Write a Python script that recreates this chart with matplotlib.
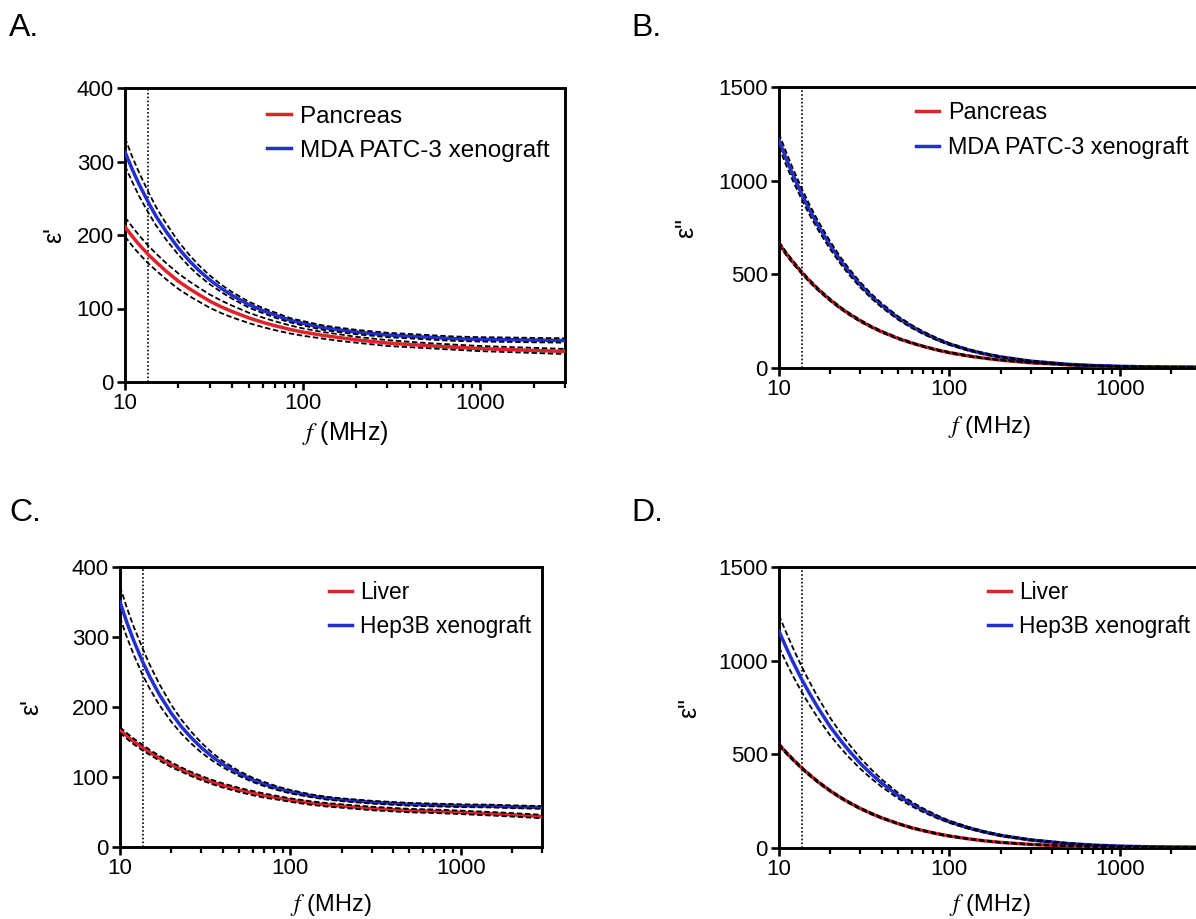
import numpy as np
import matplotlib.pyplot as plt
from matplotlib.ticker import LogLocator, FixedLocator, NullFormatter, FixedFormatter

plt.rcParams['font.family'] = ['Liberation Sans', 'DejaVu Sans']
plt.rcParams['mathtext.fontset'] = 'stix'

freq = [10, 11, 12, 13.56, 15, 17, 20, 23, 26, 30, 35, 40, 50, 60, 70, 85,
        100, 130, 160, 200, 300, 500, 700, 1000, 1500, 2000, 3000]

# A. permittivity, pancreas vs MDA PATC-3
pancreas_e1 = [211, 198, 187, 173, 163, 151, 137, 127, 119, 110, 102, 96, 87, 81, 76.5, 71.5,
               68, 63.5, 60.5, 57.5, 53, 49.5, 47.5, 45.5, 44, 43, 41.5]
pancreas_e1_ci = [13, 13, 12.5, 12, 11.5, 11, 10.5, 10, 9.5, 9, 8.5, 8, 7, 6.5, 6, 5.5,
                  5, 4.5, 4.5, 4, 4, 3.5, 3.5, 3.5, 3.5, 3.5, 3.5]
patc_e1 = [313, 289, 269, 244, 225, 205, 182, 165, 152, 139, 127, 118, 105, 97, 91, 84,
           80, 74, 71, 68, 64, 61, 59, 58, 57.5, 57, 56.5]
patc_e1_ci = [19, 17, 16, 14, 12.5, 11, 9, 8, 7, 6, 5, 4.5, 4, 3.5, 3.5, 3,
              3, 3, 3, 3, 3, 3, 3, 3, 3, 3, 3]

# B. loss factor, pancreas vs MDA PATC-3
pancreas_e2 = [665, 612, 568, 511, 468, 419, 363, 320, 287, 252, 219, 194, 158, 134, 116, 96,
               82, 64, 52.5, 42, 28, 17, 11.5, 7, 5, 4, 3.5]
pancreas_e2_ci = [9, 8, 8, 7, 7, 6, 6, 5, 5, 5, 4, 4, 4, 3, 3, 3,
                  3, 3, 2, 2, 2, 2, 2, 2, 2, 2, 2]
patc_e2 = [1215, 1119, 1037, 931, 850, 759, 654, 573, 510, 444, 382, 335, 267, 222, 189, 153,
           128, 96, 76, 59, 36.5, 19.5, 13, 9, 6, 5, 4.5]
patc_e2_ci = [37, 35, 33, 30, 27, 24, 21, 18, 16, 14, 12, 11, 9, 8, 7, 6,
              5, 4, 4, 3, 3, 2, 2, 2, 2, 2, 2]

# C. permittivity, liver vs Hep3B
liver_e1 = [167, 158.5, 151, 142, 135, 127, 117.5, 110.5, 104.5, 98.5, 92.5, 88, 81.5, 77, 73.5, 70,
            67, 63, 60.5, 58.5, 55, 52, 51, 49.5, 47.5, 46, 43.5]
liver_e1_ci = [4, 4, 4, 4, 3.5, 3.5, 3.5, 3, 3, 3, 3, 3, 3, 3, 3, 2.5,
               2.5, 2.5, 2.5, 2.5, 2.5, 2.5, 2.5, 2.5, 2.5, 2.5, 2.5]
hep_e1 = [350, 320, 295.5, 265, 242.5, 218, 191, 171.5, 157, 142, 128.5, 118.5, 105, 96, 90, 83.5,
          79, 73.5, 70, 67.5, 64, 61, 60, 59, 58.5, 57.5, 56.5]
hep_e1_ci = [22, 21, 20, 19, 17, 15, 12, 10, 8.5, 7, 5.5, 4.5, 3.5, 3, 3, 2.5,
             2.5, 2, 2, 2, 2, 2, 2, 2, 2, 2, 2]

# D. loss factor, liver vs Hep3B
liver_e2 = [552, 510, 475, 428, 393, 352, 305, 269, 241, 211, 183, 161, 130, 108, 93, 76,
            64, 48.5, 38.5, 30, 19, 10.5, 7, 4.5, 3.5, 3, 3]
liver_e2_ci = [6, 6, 5, 5, 5, 5, 4, 4, 4, 4, 4, 3, 3, 3, 3, 3,
               3, 2, 2, 2, 2, 2, 2, 2, 2, 2, 2]
hep_e2 = [1157, 1072, 998, 902, 830, 746, 647, 574, 515, 452, 393, 347, 280, 235, 202, 166,
          140, 107, 86, 67, 43, 23.5, 15.5, 10, 6.5, 5, 4]
hep_e2_ci = [85, 80, 75, 68, 62, 55, 47, 40, 35, 29, 24, 20, 15, 12, 10, 8,
             6, 5, 4, 4, 3, 3, 2, 2, 2, 2, 2]

ism_freq = 13.56
red = '#e0232a'
blue = '#2230d2'

W, H = 1196, 919
fig = plt.figure(figsize=(W / 100, H / 100), dpi=100)


def px_axes(left, right, top, bottom):
    return fig.add_axes([left / W, 1 - bottom / H, (right - left) / W, (bottom - top) / H])


def draw_panel(ax, normal, normal_ci, tumour, tumour_ci, labels, ymax, ystep,
               ylabel, legend_xy, legend_fs, ylabel_x, xlabel_y):
    f = np.array(freq)
    for vals, ci, col in [(normal, normal_ci, red), (tumour, tumour_ci, blue)]:
        vals = np.array(vals, dtype=float)
        ci = np.array(ci, dtype=float)
        ax.plot(f, vals, color=col, lw=2.5, zorder=3)
        ax.plot(f, vals + ci, color='black', lw=1.3, ls=(0, (3, 1.5)), zorder=4)
        ax.plot(f, vals - ci, color='black', lw=1.3, ls=(0, (3, 1.5)), zorder=4)
    ax.axvline(ism_freq, color='black', lw=1.2, ls=(0, (1, 1.3)), zorder=2)

    ax.set_xscale('log')
    ax.set_xlim(10, 3000)
    ax.set_ylim(0, ymax)
    ax.set_yticks(np.arange(0, ymax + 1, ystep))
    ax.xaxis.set_major_locator(FixedLocator([10, 100, 1000]))
    ax.xaxis.set_major_formatter(FixedFormatter(['10', '100', '1000']))
    ax.xaxis.set_minor_locator(LogLocator(base=10, subs=np.arange(2, 10), numticks=20))
    ax.xaxis.set_minor_formatter(NullFormatter())

    for s in ax.spines.values():
        s.set_linewidth(2.1)
    ax.tick_params(which='major', direction='out', length=6, width=1.9, labelsize=16, pad=2)
    ax.tick_params(which='minor', direction='out', length=4, width=1.6)

    ax.set_xlabel('$f$ (MHz)', fontsize=legend_fs + 0.6, va='center')
    ax.xaxis.set_label_coords(0.5, xlabel_y)
    ax.set_ylabel(ylabel, fontsize=18, va='center', ha='center')
    ax.yaxis.set_label_coords(ylabel_x, 0.5)

    hl = [plt.Line2D([], [], color=red, lw=2.5), plt.Line2D([], [], color=blue, lw=2.5)]
    ax.legend(hl, labels, loc='upper left', bbox_to_anchor=legend_xy, frameon=False,
              fontsize=legend_fs, handlelength=1.0, handletextpad=0.35, labelspacing=0.5,
              borderpad=0, borderaxespad=0)


axA = px_axes(125, 565, 88, 382)
axB = px_axes(779, 1201, 87, 368)
axC = px_axes(120, 542, 567, 847)
axD = px_axes(779, 1201, 567, 848)

draw_panel(axA, pancreas_e1, pancreas_e1_ci, patc_e1, patc_e1_ci,
           ['Pancreas', 'MDA PATC-3 xenograft'], 400, 100, "ε'",
           (0.323, 0.94), 17.5, -0.161, -0.173)
draw_panel(axB, pancreas_e2, pancreas_e2_ci, patc_e2, patc_e2_ci,
           ['Pancreas', 'MDA PATC-3 xenograft'], 1500, 500, 'ε"',
           (0.325, 0.95), 16.8, -0.22, -0.21)
draw_panel(axC, liver_e1, liver_e1_ci, hep_e1, hep_e1_ci,
           ['Liver', 'Hep3B xenograft'], 400, 100, "ε'",
           (0.495, 0.95), 16.4, -0.211, -0.207)
draw_panel(axD, liver_e2, liver_e2_ci, hep_e2, hep_e2_ci,
           ['Liver', 'Hep3B xenograft'], 1500, 500, 'ε"',
           (0.495, 0.95), 16.4, -0.213, -0.203)

for letter, x, y in [('A.', 9, 28), ('B.', 631, 28), ('C.', 9, 513), ('D.', 631, 513)]:
    fig.text(x / W, 1 - y / H, letter, fontsize=23, ha='left', va='center')

fig.savefig('out.png', dpi=100)
